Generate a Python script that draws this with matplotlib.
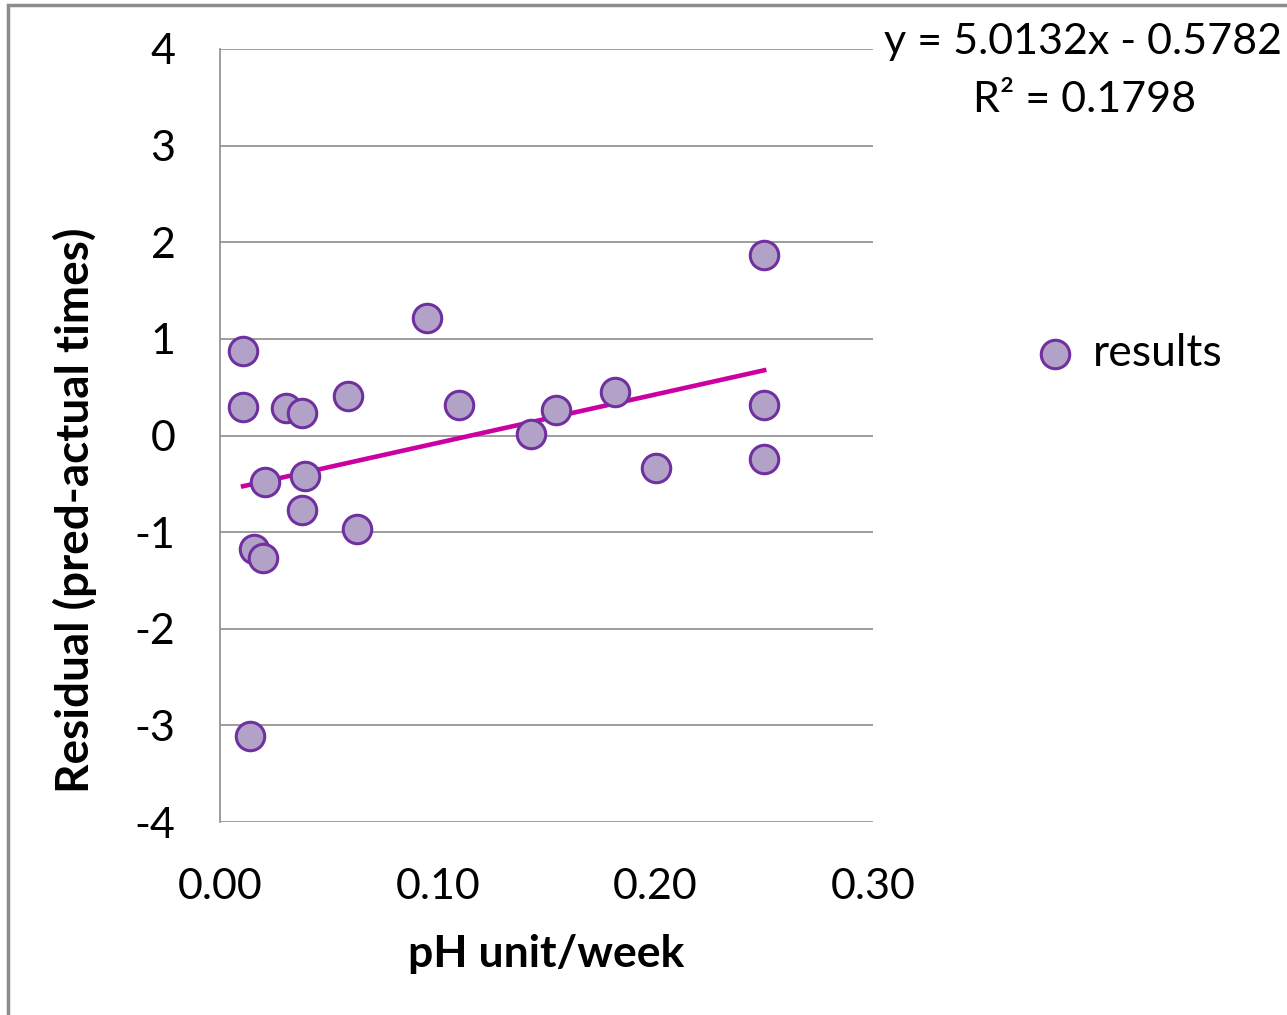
import matplotlib.pyplot as plt
from matplotlib.patches import Rectangle

rate = [0.0106, 0.0106, 0.0207, 0.0156, 0.0198, 0.0138, 0.0303, 0.0377, 0.0390, 0.0377,
        0.0588, 0.0629, 0.0951, 0.1098, 0.1429, 0.1543, 0.1814, 0.2003, 0.2499, 0.2500, 0.2500]
residual = [0.87, 0.30, -0.48, -1.17, -1.27, -3.11, 0.28, 0.23, -0.42, -0.77,
            0.41, -0.97, 1.22, 0.32, 0.02, 0.26, 0.45, -0.34, 1.87, 0.32, -0.24]
slope, intercept = 5.0132, -0.5782
r2 = 0.1798

plt.rcParams['font.family'] = ['Lato', 'DejaVu Sans']
plt.rcParams['axes.unicode_minus'] = False

fig = plt.figure(figsize=(12.87, 10.15), dpi=100)
fig.patches.append(Rectangle((8 / 1287, -0.1), 1.2, (1015 - 5) / 1015 + 0.1, transform=fig.transFigure,
                             fill=False, edgecolor='#8c8c8c', linewidth=2.5))

ax = fig.add_axes([220 / 1287, 1 - 822 / 1015, (873 - 220) / 1287, (822 - 49) / 1015])
ax.scatter(rate, residual, s=420, facecolor='#b3a2c7', edgecolor='#7030a0', linewidth=2.2,
           zorder=3, label='results')
xs = [min(rate), max(rate)]
ax.plot(xs, [slope * x + intercept for x in xs], color='#cc00a0', linewidth=3.3, zorder=2)

ax.set_xlim(0, 0.30)
ax.set_ylim(-4, 4)
ax.set_xticks([0, 0.1, 0.2, 0.3])
ax.set_xticklabels(['0.00', '0.10', '0.20', '0.30'])
ax.set_yticks(range(-4, 5))
ax.tick_params(length=0, labelsize=31, colors='black')
ax.tick_params(axis='x', pad=33)
ax.tick_params(axis='y', pad=32)
ax.grid(axis='y', color='#8c8c8c', linewidth=1.2)
ax.set_axisbelow(True)
for side in ['top', 'right', 'bottom']:
    ax.spines[side].set_visible(False)
ax.spines['left'].set_color('#8c8c8c')
ax.spines['left'].set_linewidth(1.2)

ax.set_xlabel('pH unit/week', fontsize=32, fontweight='bold', labelpad=20)
ax.set_ylabel('Residual (pred-actual times)', fontsize=33, fontweight='bold')
ax.yaxis.set_label_coords(-(220 - 97) / 653, (822 - 510) / 773)

fig.text(1083 / 1287, 1 - 42 / 1015, f'y = {slope}x - {abs(intercept)}', fontsize=31,
         ha='center', va='center')
fig.text(1085 / 1287, 1 - 100 / 1015, f'R² = {r2}', fontsize=31, ha='center', va='center')

fig.legend(loc='center left', bbox_to_anchor=(1033 / 1287, 1 - 353 / 1015), frameon=False,
           fontsize=32, markerscale=1, handlelength=1, handletextpad=0.34,
           borderpad=0, borderaxespad=0)

fig.savefig('out.png', dpi=100)
